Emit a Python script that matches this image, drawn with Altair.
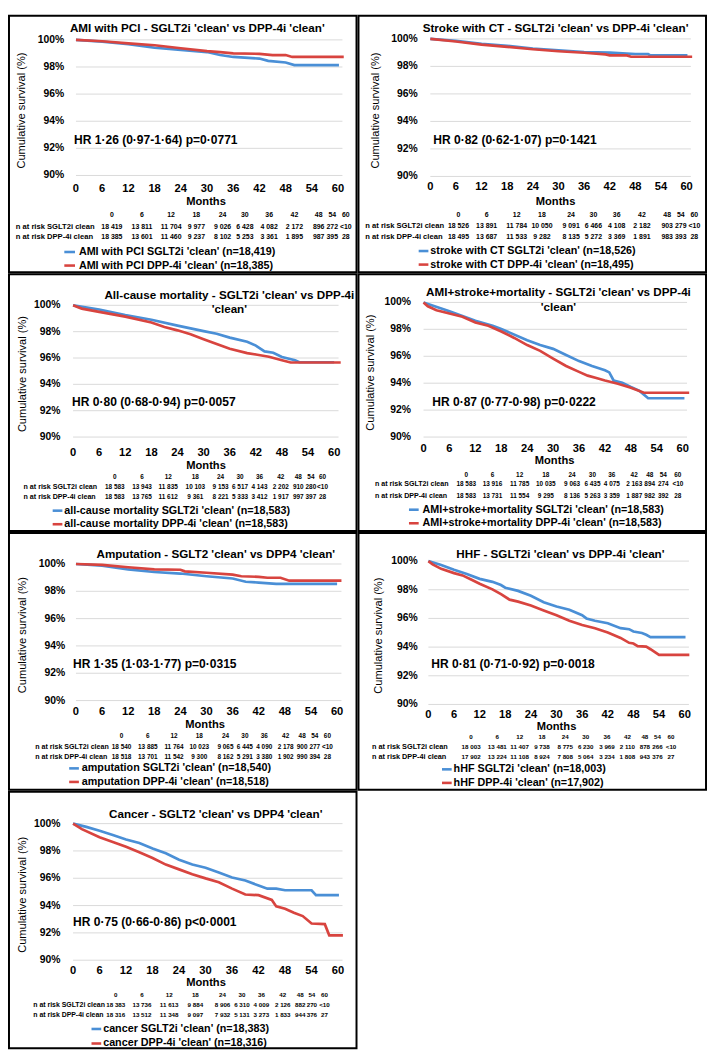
import altair as alt
import pandas as pd

# ---------------- data ----------------
Y_TICKS = [90, 92, 94, 96, 98, 100]
Y_LABELS = ["90%", "92%", "94%", "96%", "98%", "100%"]
X_TICKS = [0, 6, 12, 18, 24, 30, 36, 42, 48, 54, 60]
RISK_HEADER = ["0", "6", "12", "18", "24", "30", "36", "42", "48", "54", "60"]

# 1 AMI with PCI
AMI_SG_M = [0, 6, 12, 18, 24, 30, 33, 36, 42, 44, 48, 50, 60.2]
AMI_SG_S = [100, 99.87, 99.69, 99.42, 99.26, 99.1, 98.88, 98.74, 98.62, 98.45, 98.33, 98.14, 98.14]
AMI_DP_M = [0, 6, 12, 18, 24, 30, 33, 36, 42, 45, 48, 49.5, 61.3]
AMI_DP_S = [100, 99.9, 99.74, 99.6, 99.38, 99.17, 99.1, 99.0, 98.97, 98.88, 98.88, 98.74, 98.74]
AMI_RISK_SG = ["18 419", "13 811", "11 704", "9 977", "9 026", "6 428", "4 082", "2 172", "896", "272", "<10"]
AMI_RISK_DP = ["18 385", "13 601", "11 460", "9 237", "8 102", "5 253", "3 361", "1 895", "987", "395", "28"]

# 2 stroke with CT
STR_SG_M = [0, 6, 12, 18, 24, 30, 36, 42, 48, 51, 51.5, 60.2]
STR_SG_S = [100, 99.86, 99.64, 99.5, 99.3, 99.17, 99.05, 99.0, 98.9, 98.9, 98.8, 98.8]
STR_DP_M = [0, 6, 12, 18, 24, 30, 36, 41, 42, 46, 47, 61.3]
STR_DP_S = [100, 99.81, 99.58, 99.42, 99.25, 99.1, 98.99, 98.87, 98.8, 98.8, 98.7, 98.7]
STR_RISK_SG = ["18 526", "13 891", "11 784", "10 050", "9 091", "6 466", "4 108", "2 182", "903", "279", "<10"]
STR_RISK_DP = ["18 495", "13 687", "11 533", "9 282", "8 135", "5 272", "3 369", "1 891", "983", "393", "28"]

# 3 all-cause mortality
MOR_SG_M = [0, 6, 12, 18, 24, 30, 33, 36, 40, 42, 44, 46, 48, 51, 52, 60]
MOR_SG_S = [100, 99.68, 99.26, 98.9, 98.46, 98.04, 97.84, 97.55, 97.23, 96.94, 96.5, 96.4, 96.08, 95.83, 95.68, 95.68]
MOR_DP_M = [0, 2, 6, 12, 18, 21, 24, 27, 30, 33, 36, 40, 42, 45, 48, 50, 61.5]
MOR_DP_S = [100, 99.75, 99.5, 99.14, 98.7, 98.36, 98.1, 97.8, 97.43, 97.06, 96.7, 96.37, 96.27, 96.1, 95.83, 95.66, 95.66]
MOR_RISK_SG = ["18 583", "13 943", "11 835", "10 103", "9 153", "6 517", "4 143", "2 202", "910", "280", "<10"]
MOR_RISK_DP = ["18 583", "13 765", "11 612", "9 361", "8 221", "5 333", "3 412", "1 917", "997", "397", "28"]

# 4 AMI+stroke+mortality
MACE_SG_M = [0, 6, 12, 16, 18, 24, 27, 30, 33, 36, 39, 42, 43, 44, 46, 48, 50, 52, 60.4]
MACE_SG_S = [100, 99.35, 98.63, 98.27, 98.03, 97.19, 96.83, 96.55, 96.1, 95.64, 95.28, 94.96, 94.8, 94.2, 94.03, 93.72, 93.43, 92.88, 92.88]
MACE_DP_M = [0, 1, 3, 6, 9, 12, 15, 18, 21, 24, 27, 30, 33, 36, 38, 40, 42, 45, 48, 51, 61.5]
MACE_DP_S = [100, 99.71, 99.42, 99.18, 98.94, 98.51, 98.27, 97.84, 97.36, 96.83, 96.4, 95.83, 95.28, 94.84, 94.56, 94.39, 94.2, 93.96, 93.67, 93.29, 93.29]
MACE_RISK_SG = ["18 583", "13 916", "11 785", "10 035", "9 063", "6 435", "4 075", "2 163", "894", "274", "<10"]
MACE_RISK_DP = ["18 583", "13 731", "11 554", "9 295", "8 136", "5 263", "3 359", "1 887", "982", "392", "28"]

# 5 amputation
AMP_SG_M = [0, 6, 12, 18, 24, 30, 36, 39, 42, 46, 60]
AMP_SG_S = [100, 99.88, 99.6, 99.41, 99.3, 99.1, 98.94, 98.7, 98.64, 98.54, 98.54]
AMP_DP_M = [0, 6, 12, 18, 24, 25, 30, 36, 38, 42, 44, 47, 49, 61]
AMP_DP_S = [100, 99.93, 99.76, 99.6, 99.58, 99.46, 99.36, 99.22, 99.1, 99.06, 98.99, 98.99, 98.78, 98.78]
AMP_RISK_SG = ["18 540", "13 885", "11 764", "10 023", "9 065", "6 445", "4 090", "2 178", "900", "277", "<10"]
AMP_RISK_DP = ["18 518", "13 701", "11 542", "9 300", "8 162", "5 291", "3 380", "1 902", "990", "394", "28"]

# 6 HHF
HHF_SG_M = [0, 3, 6, 9, 12, 15, 17, 18, 21, 24, 27, 30, 33, 36, 37, 39, 42, 45, 47, 48, 50, 51, 52, 60.2]
HHF_SG_S = [100, 99.73, 99.39, 99.1, 98.76, 98.55, 98.33, 98.14, 97.92, 97.58, 97.13, 96.83, 96.6, 96.22, 96.0, 95.84, 95.66, 95.32, 95.25, 95.09, 94.98, 94.86, 94.7, 94.7]
HHF_DP_M = [0, 1, 3, 6, 8, 10, 12, 15, 17, 19, 21, 24, 27, 30, 33, 36, 39, 42, 45, 47, 48, 49, 51, 52, 54, 61.1]
HHF_DP_S = [100, 99.77, 99.46, 99.16, 99.0, 98.71, 98.42, 98.03, 97.69, 97.31, 97.17, 96.9, 96.56, 96.22, 95.84, 95.54, 95.32, 95.02, 94.64, 94.3, 94.25, 94.07, 94.03, 93.85, 93.46, 93.46]
HHF_RISK_SG = ["18 003", "13 481", "11 407", "9 738", "8 775", "6 230", "3 969", "2 110", "878", "266", "<10"]
HHF_RISK_DP = ["17 902", "13 224", "11 108", "8 924", "7 808", "5 064", "3 234", "1 808", "943", "376", "27"]

# 7 cancer
CAN_SG_M = [0, 3, 6, 9, 12, 15, 18, 21, 24, 27, 30, 33, 36, 39, 42, 44, 46, 48, 54, 55, 60.2]
CAN_SG_S = [100, 99.76, 99.48, 99.17, 98.84, 98.58, 98.18, 97.83, 97.36, 97.0, 96.77, 96.42, 96.06, 95.83, 95.47, 95.24, 95.24, 95.12, 95.12, 94.76, 94.76]
CAN_DP_M = [0, 2, 6, 9, 12, 15, 18, 21, 24, 27, 30, 33, 36, 39, 42, 45, 46, 48, 50, 52, 54, 57, 58, 61.1]
CAN_DP_S = [100, 99.6, 99.0, 98.66, 98.3, 97.9, 97.48, 97.0, 96.65, 96.3, 95.99, 95.71, 95.24, 94.81, 94.76, 94.41, 93.94, 93.77, 93.47, 93.23, 92.69, 92.64, 91.82, 91.82]
CAN_RISK_SG = ["18 383", "13 736", "11 613", "9 884", "8 906", "6 310", "4 009", "2 126", "882", "270", "<10"]
CAN_RISK_DP = ["18 316", "13 512", "11 348", "9 097", "7 932", "5 131", "3 273", "1 833", "944", "376", "27"]

TITLES = [
    ["AMI with PCI - SGLT2i 'clean' vs DPP-4i 'clean'"],
    ["Stroke with CT - SGLT2i 'clean' vs DPP-4i 'clean'"],
    ["All-cause mortality - SGLT2i 'clean' vs DPP-4i", "'clean'"],
    ["AMI+stroke+mortality - SGLT2i 'clean' vs DPP-4i", "'clean'"],
    ["Amputation - SGLT2 'clean' vs DPP4 'clean'"],
    ["HHF - SGLT2i 'clean' vs DPP-4i 'clean'"],
    ["Cancer - SGLT2 'clean' vs DPP4 'clean'"],
]
HR_TEXT = [
    "HR 1·26 (0·97-1·64) p=0·0771",
    "HR 0·82 (0·62-1·07) p=0·1421",
    "HR 0·80 (0·68-0·94) p=0·0057",
    "HR 0·87 (0·77-0·98) p=0·0222",
    "HR 1·35 (1·03-1·77) p=0·0315",
    "HR 0·81 (0·71-0·92) p=0·0018",
    "HR 0·75 (0·66-0·86) p<0·0001",
]
LEGENDS = [
    ["AMI with PCI SGLT2i 'clean' (n=18,419)", "AMI with PCI DPP-4i 'clean' (n=18,385)"],
    ["stroke with CT SGLT2i 'clean' (n=18,526)", "stroke with CT DPP-4i 'clean' (n=18,495)"],
    ["all-cause mortality SGLT2i 'clean' (n=18,583)", "all-cause mortality DPP-4i 'clean' (n=18,583)"],
    ["AMI+stroke+mortality SGLT2i 'clean' (n=18,583)", "AMI+stroke+mortality DPP-4i 'clean' (n=18,583)"],
    ["amputation SGLT2i 'clean' (n=18,540)", "amputation DPP-4i 'clean' (n=18,518)"],
    ["hHF SGLT2i 'clean' (n=18,003)", "hHF DPP-4i 'clean' (n=17,902)"],
    ["cancer SGLT2i 'clean' (n=18,383)", "cancer DPP-4i 'clean' (n=18,316)"],
]
ROW_LABELS = ["n at risk SGLT2i clean", "n at risk DPP-4i clean"]

SERIES = [
    (AMI_SG_M, AMI_SG_S, AMI_DP_M, AMI_DP_S, AMI_RISK_SG, AMI_RISK_DP),
    (STR_SG_M, STR_SG_S, STR_DP_M, STR_DP_S, STR_RISK_SG, STR_RISK_DP),
    (MOR_SG_M, MOR_SG_S, MOR_DP_M, MOR_DP_S, MOR_RISK_SG, MOR_RISK_DP),
    (MACE_SG_M, MACE_SG_S, MACE_DP_M, MACE_DP_S, MACE_RISK_SG, MACE_RISK_DP),
    (AMP_SG_M, AMP_SG_S, AMP_DP_M, AMP_DP_S, AMP_RISK_SG, AMP_RISK_DP),
    (HHF_SG_M, HHF_SG_S, HHF_DP_M, HHF_DP_S, HHF_RISK_SG, HHF_RISK_DP),
    (CAN_SG_M, CAN_SG_S, CAN_DP_M, CAN_DP_S, CAN_RISK_SG, CAN_RISK_DP),
]

# ---------------- layout (reference panel-local pixels, 358x265) ----------------
LAYOUT = [
    dict(tx=194, ty=[13], y100=25, y90=165, x0=69, x60=339, ytr=57, ytx=13, xty=179, my=192, mx=203,
         hx=67, hy=128, tab=[206, 218, 229], lx=7, lf=7.7, nf=7.0,
         cols=[106, 137, 167, 193, 220, 243, 268, 294, 319, 333, 347], ly=[244, 258], ll=[57, 68], ltx=72),
    dict(tx=203, ty=[13], y100=24, y90=166, x0=74, x60=338, ytr=61, ytx=18, xty=177, my=192, mx=203,
         hx=77, hy=128, tab=[206, 217, 229], lx=7, lf=7.7, nf=7.0,
         cols=[103, 132, 163, 189, 219, 242, 266, 292, 318, 332, 346], ly=[243, 257], ll=[62, 72], ltx=74),
    dict(tx=227, ty=[21, 36], y100=32, y90=168, x0=66, x60=335, ytr=53, ytx=14, xty=184, my=198, mx=203,
         hx=65, hy=132, tab=[209, 220, 230], lx=15, lf=7.2, nf=6.5,
         cols=[109, 137, 164, 192, 218, 238, 258, 280, 298, 311, 323], ly=[244, 258], ll=[45, 55], ltx=57),
    dict(tx=206, ty=[18, 34], y100=29, y90=168, x0=67, x60=334, ytr=54, ytx=13, xty=180, my=193, mx=202,
         hx=76, hy=132, tab=[207, 217, 229], lx=17, lf=7.2, nf=6.5,
         cols=[111, 138, 166, 193, 220, 241, 261, 284, 300, 314, 329], ly=[243, 257], ll=[52, 62], ltx=66),
    dict(tx=213, ty=[22], y100=32, y90=173, x0=69, x60=338, ytr=58, ytx=14, xty=185, my=198, mx=202,
         hx=66, hy=135, tab=[210, 221, 231], lx=27, lf=7.2, nf=6.5,
         cols=[116, 143, 170, 196, 223, 243, 263, 285, 302, 315, 328], ly=[243, 257], ll=[62, 72], ltx=75),
    dict(tx=208, ty=[22], y100=29, y90=177, x0=72, x60=336, ytr=61, ytx=21, xty=188, my=200.5, mx=204,
         hx=75, hy=135, tab=[211, 221, 231], lx=14, lf=7.4, nf=6.3,
         cols=[116, 143, 166, 189, 213, 234, 256, 277, 295, 308, 322], ly=[244, 258], ll=[86, 96], ltx=98),
    dict(tx=213, ty=[23], y100=33, y90=174, x0=66, x60=339, ytr=53, ytx=14, xty=185, my=198, mx=203,
         hx=66, hy=135, tab=[210, 220, 231], lx=25, lf=7.0, nf=6.3,
         cols=[110, 137, 165, 192, 220, 240, 260, 282, 300, 312, 325], ly=[245, 260], ll=[85, 95], ltx=97),
]

W, H = 352, 260
FX, FY = W / 358.0, H / 265.0
FONT = "Liberation Sans"
BLUE = "#4a8fd6"
RED = "#d8443f"
GRID = "#d9d9d9"


def one_text(s, x, y, size, weight="bold", align="left", angle=0):
    return alt.Chart(pd.DataFrame({"t": [s]})).mark_text(
        font=FONT, fontSize=size, fontWeight=weight, align=align, baseline="middle",
        angle=angle, color="black"
    ).encode(x=alt.value(x), y=alt.value(y), text="t:N")


def panel(i):
    c = LAYOUT[i]
    sm, ss, dm, ds, rsg, rdp = SERIES[i]
    xs = alt.Scale(domain=[0, 60], range=[c["x0"] * FX, c["x60"] * FX], nice=False, zero=False)
    ys = alt.Scale(domain=[90, 100], range=[c["y90"] * FY, c["y100"] * FY], nice=False, zero=False)
    px = alt.Scale(domain=[0, W], range=[0, W], nice=False, zero=False)
    py = alt.Scale(domain=[0, H], range=[0, H], nice=False, zero=False)
    layers = []

    grid = pd.DataFrame({"v": Y_TICKS, "a": [0] * len(Y_TICKS), "b": [61] * len(Y_TICKS)})
    layers.append(alt.Chart(grid).mark_rule(color=GRID, strokeWidth=1).encode(
        x=alt.X("a:Q", scale=xs, axis=None), x2="b:Q", y=alt.Y("v:Q", scale=ys, axis=None)))

    ylab = pd.DataFrame({"v": Y_TICKS, "lab": Y_LABELS})
    layers.append(alt.Chart(ylab).mark_text(
        font=FONT, fontSize=10.5, fontWeight="bold", align="right", baseline="middle", color="black"
    ).encode(x=alt.value(c["ytr"] * FX), y=alt.Y("v:Q", scale=ys, axis=None), text="lab:N"))

    xlab = pd.DataFrame({"m": X_TICKS})
    layers.append(alt.Chart(xlab).mark_text(
        font=FONT, fontSize=11.3, fontWeight="bold", align="center", baseline="middle", color="black"
    ).encode(x=alt.X("m:Q", scale=xs, axis=None), y=alt.value(c["xty"] * FY),
             text=alt.Text("m:Q", format="d")))

    sg = pd.DataFrame({"m": sm, "s": ss})
    dp = pd.DataFrame({"m": dm, "s": ds})
    layers.append(alt.Chart(sg).mark_line(color=BLUE, strokeWidth=2.7).encode(
        x=alt.X("m:Q", scale=xs, axis=None), y=alt.Y("s:Q", scale=ys, axis=None)))
    layers.append(alt.Chart(dp).mark_line(color=RED, strokeWidth=2.7).encode(
        x=alt.X("m:Q", scale=xs, axis=None), y=alt.Y("s:Q", scale=ys, axis=None)))

    for k, line in enumerate(TITLES[i]):
        layers.append(one_text(line, c["tx"] * FX, c["ty"][k] * FY, 11.8, align="center"))

    ymid = (c["y100"] + c["y90"]) / 2.0 + 3
    layers.append(one_text("Cumulative survival (%)", c["ytx"] * FX, ymid * FY, 11.2,
                           weight="normal", align="center", angle=270))
    layers.append(one_text("Months", c["mx"] * FX, c["my"] * FY, 11.3, align="center"))
    layers.append(one_text(HR_TEXT[i], c["hx"] * FX, c["hy"] * FY, 12.2))

    rows = []
    for r, vals in enumerate([RISK_HEADER, rsg, rdp]):
        for j, v in enumerate(vals):
            rows.append({"px": c["cols"][j] * FX, "py": c["tab"][r] * FY, "t": v})
    tab = pd.DataFrame(rows)
    layers.append(alt.Chart(tab).mark_text(
        font=FONT, fontSize=c["nf"], fontWeight="bold", align="center", baseline="middle", color="black"
    ).encode(x=alt.X("px:Q", scale=px, axis=None), y=alt.Y("py:Q", scale=py, axis=None), text="t:N"))
    for r in range(2):
        layers.append(one_text(ROW_LABELS[r], c["lx"] * FX, c["tab"][r + 1] * FY, c["lf"]))

    for k, col in enumerate([BLUE, RED]):
        seg = pd.DataFrame({"k": [k]})
        layers.append(alt.Chart(seg).mark_rule(color=col, strokeWidth=2.6).encode(
            x=alt.value(c["ll"][0] * FX), x2=alt.value(c["ll"][1] * FX), y=alt.value(c["ly"][k] * FY)))
        layers.append(one_text(LEGENDS[i][k], c["ltx"] * FX, c["ly"][k] * FY, 10.9))

    return alt.layer(*layers).resolve_scale(x="independent", y="independent").properties(width=W, height=H)


chart = alt.concat(*[panel(i) for i in range(7)], columns=2, spacing=0).properties(
    padding=0
).configure_view(stroke="black", strokeWidth=2)

chart.save("out.html", embed_options={"renderer": "svg", "actions": False})
